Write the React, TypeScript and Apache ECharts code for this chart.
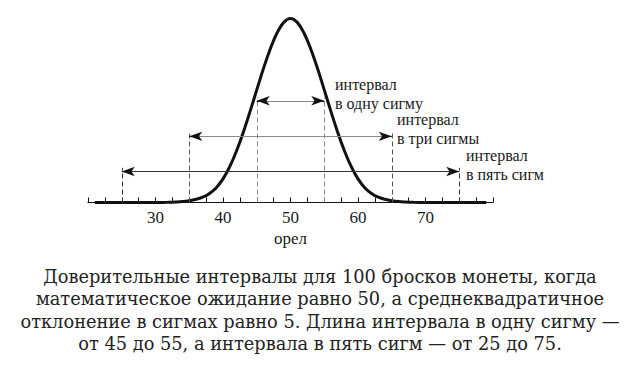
import React, { useEffect, useRef } from "react";
import * as echarts from "echarts";

// Curve: x = number of heads (орел), y = probability
const curveX = [21, 22, 23, 24, 25, 26, 27, 28, 29, 30, 31, 32, 33, 34, 35, 36, 37, 38, 39, 40, 41, 42, 43, 44, 45, 46, 47, 48, 49, 50, 51, 52, 53, 54, 55, 56, 57, 58, 59, 60, 61, 62, 63, 64, 65, 66, 67, 68, 69, 70, 71, 72, 73, 74, 75, 76, 77, 78, 79];
const curveY = [0, 0, 0, 0, 0, 0, 0, 0, 0, 0, 0, 0.0001, 0.0002, 0.0004, 0.0008, 0.0014, 0.0023, 0.0039, 0.0064, 0.0102, 0.0155, 0.0223, 0.0303, 0.0393, 0.0487, 0.0580, 0.0664, 0.0733, 0.0779, 0.0796, 0.0779, 0.0733, 0.0664, 0.0580, 0.0487, 0.0393, 0.0303, 0.0223, 0.0155, 0.0102, 0.0064, 0.0039, 0.0023, 0.0014, 0.0008, 0.0004, 0.0002, 0.0001, 0, 0, 0, 0, 0, 0, 0, 0, 0, 0, 0];

// Intervals: from, to, arrow level, dashed-line top
const intervalFrom = [45, 35, 25];
const intervalTo = [55, 65, 75];
const arrowLevel = [0.0440, 0.0286, 0.0134];
const dashTop = [0.0455, 0.0303, 0.0150];
const intervalLabels = [
  "интервал\nв одну сигму",
  "интервал\nв три сигмы",
  "интервал\nв пять сигм",
];

const xMin = 20;
const xMax = 80;
const xStep = 10;
const axisName = "орел";

const captionLines = [
  "Доверительные интервалы для 100 бросков монеты, когда",
  "математическое ожидание равно 50, а среднеквадратичное",
  "отклонение в сигмах равно 5. Длина интервала в одну сигму —",
  "от 45 до 55, а интервала в пять сигм — от 25 до 75.",
];

const SERIF = "Liberation Serif";
const CAPTION_FONT = "DejaVu Serif";

export default function App() {
  const ref = useRef<HTMLDivElement>(null);

  useEffect(() => {
    if (!ref.current) return;
    const chart = echarts.init(ref.current, undefined, { renderer: "svg" });

    const dashColors = ["#8a8a8a", "#555", "#333"];
    const arrowColors = ["#8a8a8a", "#8a8a8a", "#333"];
    const headLen = 0.35;

    const dashData = intervalFrom.flatMap((f, i) => [
      [
        { coord: [f, 0], lineStyle: { color: dashColors[i] } },
        { coord: [f, dashTop[i]] },
      ],
      [
        { coord: [intervalTo[i], 0], lineStyle: { color: dashColors[i] } },
        { coord: [intervalTo[i], dashTop[i]] },
      ],
    ]);

    const arrowData = intervalFrom.flatMap((f, i) => [
      [
        { coord: [f, arrowLevel[i]], symbol: "none", lineStyle: { color: arrowColors[i] } },
        { coord: [intervalTo[i], arrowLevel[i]], symbol: "none" },
      ],
      [
        { coord: [f + headLen, arrowLevel[i]], symbol: "none", lineStyle: { color: "#111" } },
        { coord: [f, arrowLevel[i]], symbol: "arrow" },
      ],
      [
        { coord: [intervalTo[i] - headLen, arrowLevel[i]], symbol: "none", lineStyle: { color: "#111" } },
        { coord: [intervalTo[i], arrowLevel[i]], symbol: "arrow" },
      ],
    ]);

    const labelPos = [
      [335, 94],
      [397, 129],
      [466, 165],
    ];

    const graphics: any[] = [];
    intervalLabels.forEach((t, i) => {
      graphics.push({
        type: "text",
        x: labelPos[i][0],
        y: labelPos[i][1],
        style: {
          text: t,
          fontFamily: SERIF,
          fontSize: 16,
          lineHeight: 19,
          fill: "#1a1a1a",
          verticalAlign: "middle",
        },
      });
    });
    captionLines.forEach((t, i) => {
      graphics.push({
        type: "text",
        x: 320,
        y: 276 + i * 22.6,
        style: {
          text: t,
          fontFamily: CAPTION_FONT,
          fontSize: 17.8,
          lineHeight: 20,
          fill: "#222",
          align: "center",
          verticalAlign: "middle",
        },
      });
    });

    chart.setOption({
      animation: false,
      backgroundColor: "#fff",
      grid: { left: 88, right: 147, top: 17.5, bottom: 163.5 },
      xAxis: {
        type: "value",
        min: xMin,
        max: xMax,
        interval: xStep,
        name: axisName,
        nameLocation: "middle",
        nameGap: 25,
        nameTextStyle: { fontFamily: SERIF, fontSize: 17, color: "#1a1a1a" },
        axisLine: { lineStyle: { color: "#111", width: 1.2 } },
        axisTick: { inside: true, length: 5, lineStyle: { color: "#111", width: 1 } },
        minorTick: { show: true, splitNumber: 4, length: 5, lineStyle: { color: "#111", width: 1 } },
        axisLabel: {
          showMinLabel: false,
          showMaxLabel: false,
          margin: 6,
          fontFamily: SERIF,
          fontSize: 17,
          color: "#1a1a1a",
        },
        splitLine: { show: false },
      },
      yAxis: {
        type: "value",
        min: 0,
        max: 0.08,
        show: false,
        splitLine: { show: false },
      },
      series: [
        {
          type: "line",
          data: curveX.map((x, i) => [x, curveY[i]]),
          smooth: 0.4,
          symbol: "none",
          lineStyle: { color: "#111", width: 3 },
          z: 3,
        },
        {
          type: "line",
          data: [],
          markLine: {
            silent: true,
            symbol: "none",
            label: { show: false },
            lineStyle: { type: [5, 3], width: 1 },
            data: dashData,
          },
        },
        {
          type: "line",
          data: [],
          markLine: {
            silent: true,
            symbolSize: [7, 13],
            label: { show: false },
            lineStyle: { type: "solid", width: 1.2 },
            data: arrowData,
          },
        },
      ],
      graphic: graphics,
    });

    return () => chart.dispose();
  }, []);

  return (
    <div
      ref={ref}
      style={{ position: "absolute", left: 0, top: 0, width: 640, height: 366 }}
    />
  );
}
